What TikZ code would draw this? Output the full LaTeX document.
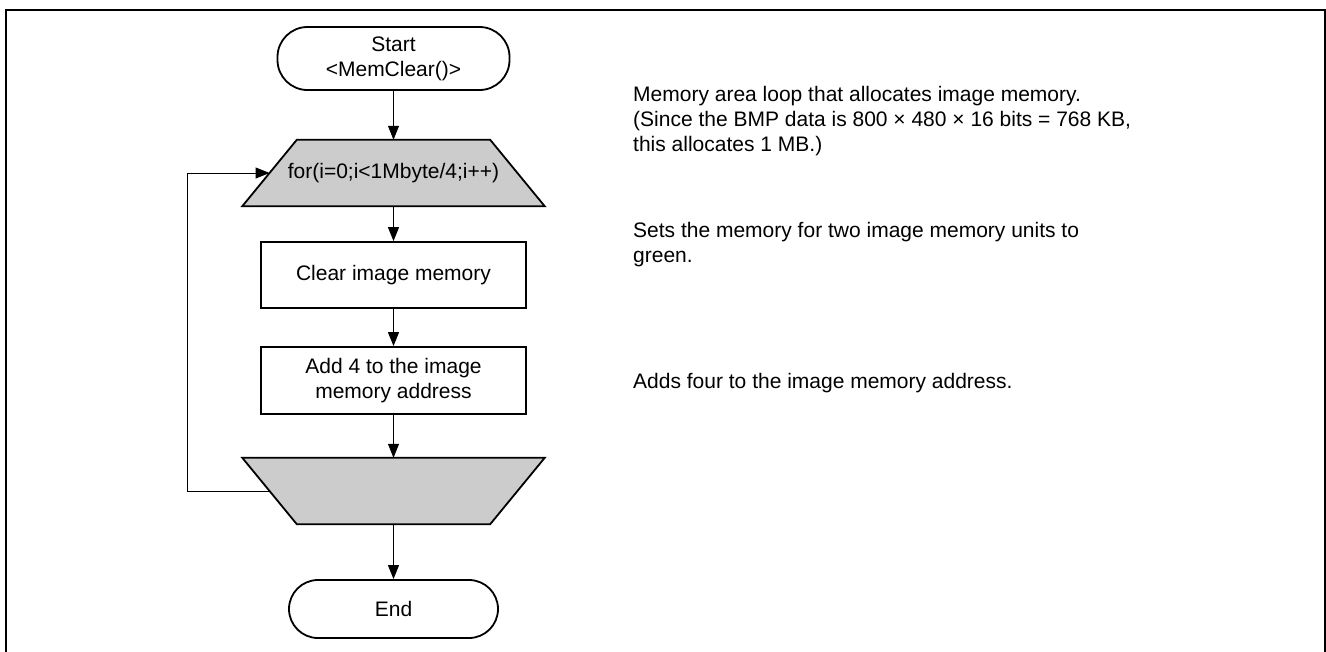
\documentclass[tikz,border=0pt]{standalone}
\usepackage{fontspec}
\setmainfont{Liberation Sans}
\usetikzlibrary{arrows.meta,calc}

\definecolor{loopgray}{RGB}{204,204,204}

\tikzset{
  flowbox/.style={draw=black, line width=1.8pt, fill=white, rectangle,
    inner sep=0pt, align=center},
  terminal/.style={flowbox, rounded corners=30pt},
  loopframe/.style={rectangle, inner sep=0pt, align=center,
    minimum width=302pt, minimum height=66pt},
  loopfill/.style={draw=black, line width=1.8pt, fill=loopgray,
    line join=miter},
  flowarrow/.style={draw=black, line width=1pt,
    -{Triangle[length=14pt,width=11pt]}},
  note/.style={anchor=base west, inner sep=0pt, align=left},
  frame/.style={draw=black, line width=2.5pt}
}

\begin{document}
\begin{tikzpicture}[x=1pt, y=-1pt, font=\fontsize{21}{25}\selectfont]
  \useasboundingbox (0,0) rectangle (1326,651);

  % outer frame (open at the bottom edge of the page)
  \draw[frame] (6,660) -- (6,10) -- (1325,10) -- (1325,660);

  % loop limit shapes: placeholders first, trapezoids drawn behind the text
  \node[loopframe] (loopA) at (393.5,173) {};
  \node[loopframe] (loopB) at (393.5,491) {};
  \path[loopfill] (loopA.south west) -- (loopA.south east)
    -- ([xshift=-54.5pt]loopA.north east) -- ([xshift=54.5pt]loopA.north west)
    -- cycle;
  \path[loopfill] (loopB.north west) -- (loopB.north east)
    -- ([xshift=-54.5pt]loopB.south east) -- ([xshift=54.5pt]loopB.south west)
    -- cycle;
  \node (looptext) at (loopA.center) {for(i=0;i<1Mbyte/4;i++)};

  % flowchart nodes
  \node[terminal, minimum width=232pt, minimum height=63pt] (start) at (393.5,58.5)
    {Start\\<MemClear()>};
  \node[flowbox, minimum width=265pt, minimum height=66pt] (clear) at (393.5,275)
    {Clear image memory};
  \node[flowbox, minimum width=265pt, minimum height=67pt] (addr) at (393.5,380.5)
    {Add 4 to the image\\memory address};
  \node[terminal, rounded corners=29pt, minimum width=209pt, minimum height=58pt]
    (finish) at (393.5,609) {End};

  % connectors
  \draw[flowarrow] (start) -- (loopA);
  \draw[flowarrow] (loopA) -- (clear);
  \draw[flowarrow] (clear) -- (addr);
  \draw[flowarrow] (addr) -- (loopB);
  \draw[flowarrow] (loopB) -- (finish);

  % loop back from loop end to loop start (midpoints of the slanted sides)
  \coordinate (loopBside) at ([xshift=27.25pt]loopB.west);
  \coordinate (loopAside) at ([xshift=27.25pt]loopA.west);
  \coordinate (backlow) at (187,491);
  \draw[flowarrow] (loopBside) -- (backlow) |- (loopAside);

  % explanatory notes
  \node[note] (note1) at (633,151.7)
    {Memory area loop that allocates image memory.\\
     (Since the BMP data is 800 × 480 × 16 bits = 768 KB,\\
     this allocates 1 MB.)};
  \node[note] (note2) at (633,262.7)
    {Sets the memory for two image memory units to\\green.};
  \node[note] (note3) at (633,388)
    {Adds four to the image memory address.};
\end{tikzpicture}
\end{document}
